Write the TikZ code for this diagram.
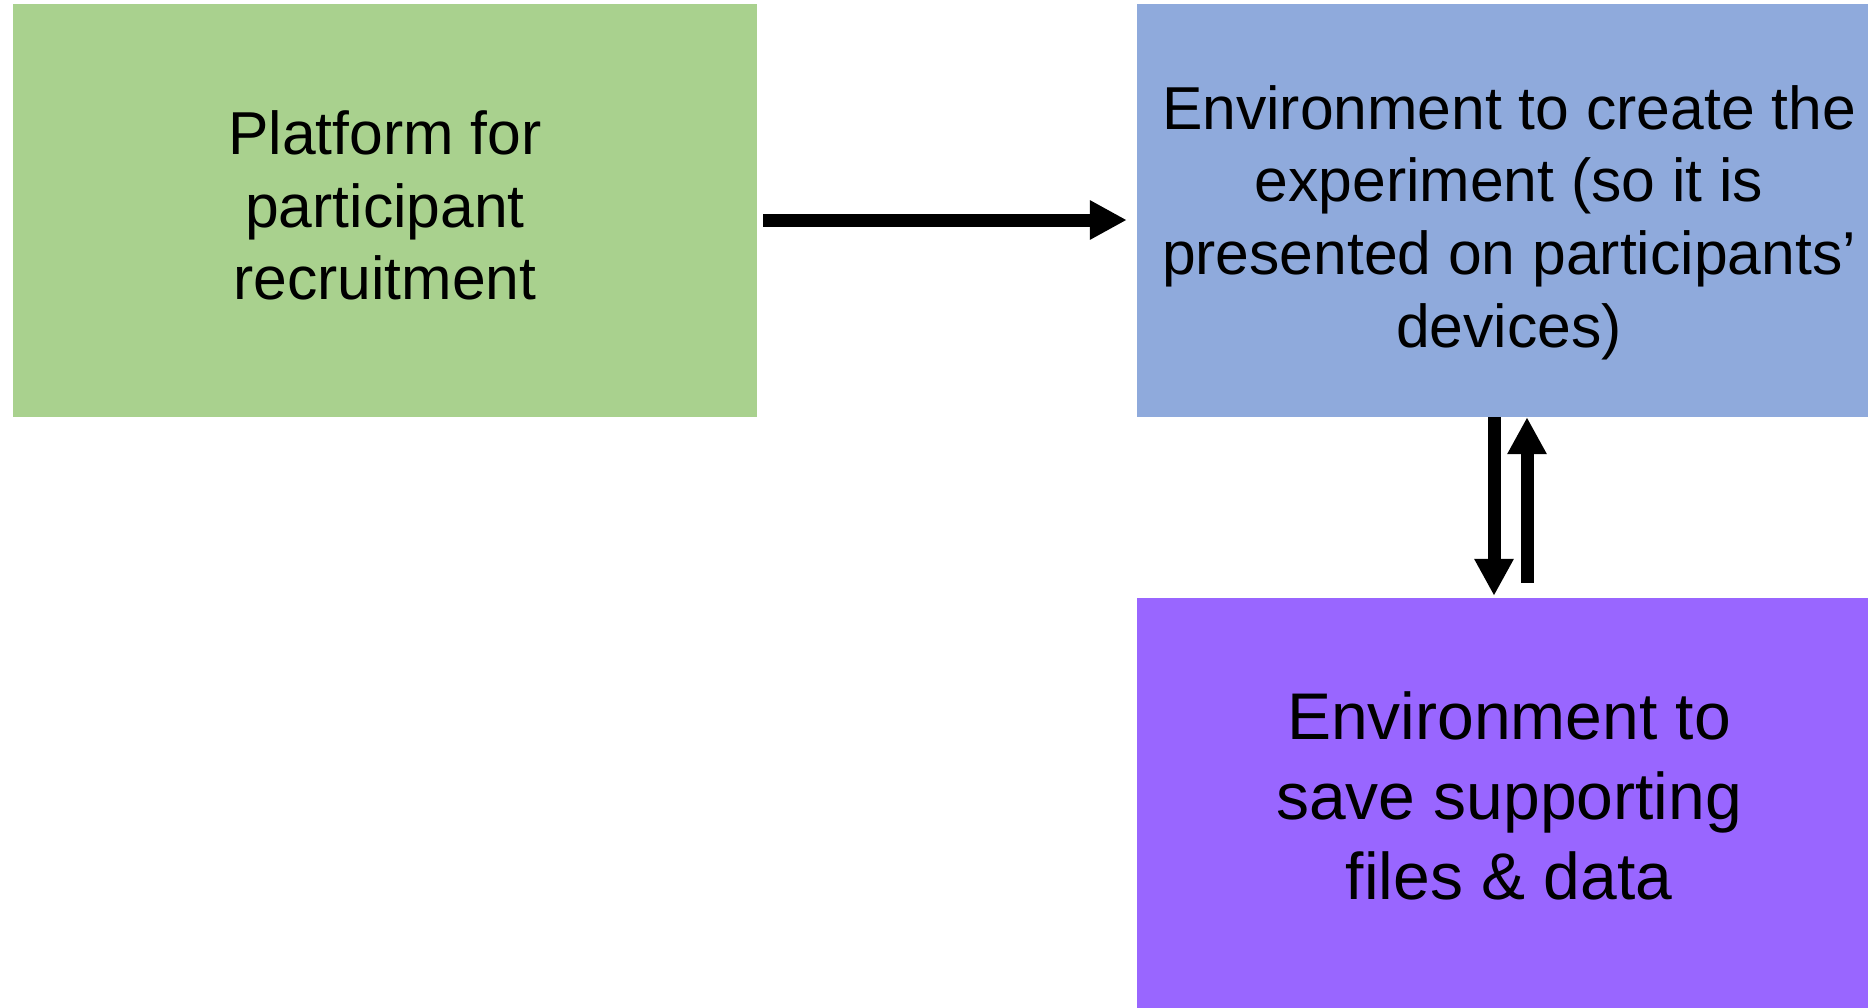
\documentclass[tikz,border=0pt]{standalone}
\usepackage{fontspec}
\setmainfont{Liberation Sans}
\usetikzlibrary{arrows.meta}
\definecolor{boxgreen}{HTML}{A9D18E}
\definecolor{boxblue}{HTML}{8FAADC}
\definecolor{boxpurple}{HTML}{9966FF}
\begin{document}
\begin{tikzpicture}[x=1pt,y=-1pt,
  box/.style={draw=none, inner sep=0pt, minimum width=744pt},
  label/.style={inner sep=0pt, align=center, font=\fontsize{60.6}{72.7}\selectfont},
  link/.style={line width=13pt, -{Triangle[width=37pt,length=37pt]}}]
\clip (0,0) rectangle (1868,1007);
\node[box, fill=boxgreen, minimum height=413pt] (green) at (385,210.5) {};
\node[box, fill=boxblue, minimum height=413pt] (blue) at (1509,210.5) {};
\node[box, fill=boxpurple, minimum height=412pt] (purple) at (1509,804) {};
\node[label] (greentext) at ([yshift=5pt]green.center)
  {Platform for\\participant\\recruitment};
\node[label] (bluetext) at ([yshift=-12pt]blue.center)
  {Environment to create the\\experiment (so it is\\presented on participants’\\devices)};
\node[label, font=\fontsize{66}{80}\selectfont] (purpletext) at ([yshift=8pt]purple.center)
  {Environment to\\save supporting\\files \& data};
\draw[link] ([xshift=6pt,yshift=-9.5pt]green.east) -- ([xshift=-10pt,yshift=-9.5pt]blue.west);
\draw[link] ([xshift=-15pt]blue.south) -- ([xshift=-15pt,yshift=2pt]purple.north);
\draw[link] ([xshift=18pt,yshift=15pt]purple.north) -- ([xshift=18pt]blue.south);
\end{tikzpicture}
\end{document}
